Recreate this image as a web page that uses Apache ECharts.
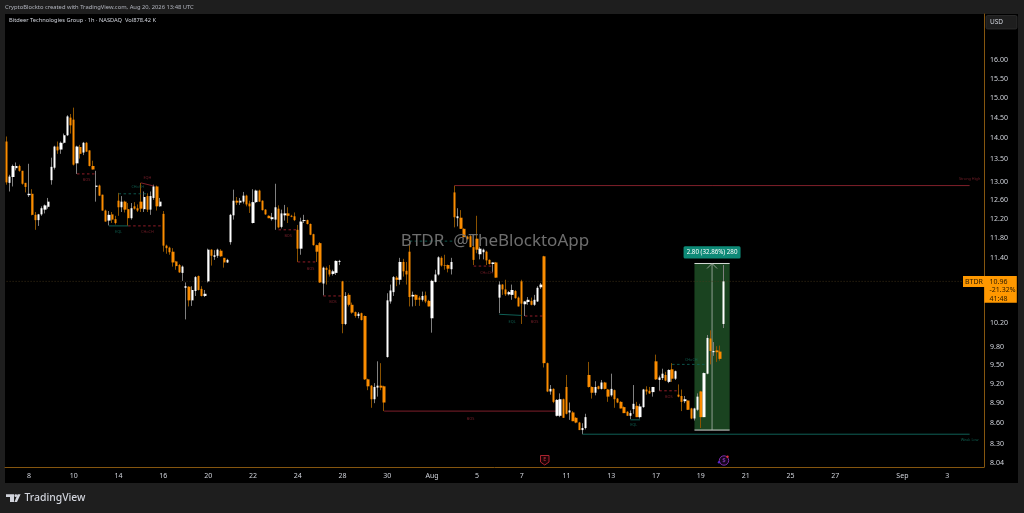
<!DOCTYPE html>
<html><head><meta charset="utf-8">
<style>html,body{margin:0;padding:0;background:#1e1e1e}#c{width:1024px;height:513px}</style>
<script src="https://cdn.jsdelivr.net/npm/echarts@6/dist/echarts.min.js"></script>
</head><body><div id="c"></div>
<script>
const sessions=['Jul 7','Jul 8','Jul 9','Jul 10','Jul 13','Jul 14','Jul 15','Jul 16','Jul 17','Jul 20','Jul 21','Jul 22','Jul 23','Jul 24','Jul 27','Jul 28','Jul 29','Jul 30','Jul 31','Aug 3','Aug 4','Aug 5','Aug 6','Aug 7','Aug 10','Aug 11','Aug 12','Aug 13','Aug 14','Aug 17','Aug 18','Aug 19','Aug 20','Aug 21','Aug 24','Aug 25','Aug 26','Aug 27','Aug 28','Aug 31','Sep 1','Sep 2','Sep 3','Sep 4'];
const dateTicks=['Jul 8','Jul 10','Jul 14','Jul 16','Jul 20','Jul 22','Jul 24','Jul 28','Jul 30','Aug 3','Aug 5','Aug 7','Aug 11','Aug 13','Aug 17','Aug 19','Aug 21','Aug 25','Aug 27','Sep 1','Sep 3'];
const priceTicks=[16,15.5,15,14.5,14,13.5,13,12.6,12.2,11.8,11.4,10.2,9.8,9.5,9.2,8.9,8.6,8.3,8.04];
const opens=[13.92,12.97,13.10,13.30,13.35,13.24,12.97,12.70,12.73,12.28,12.17,12.29,12.39,12.45,13.03,
13.31,13.80,13.73,13.89,14.07,14.50,14.45,13.41,13.79,13.66,13.89,13.71,13.35,12.88,12.91,
12.71,12.37,12.16,12.29,12.19,12.58,12.44,12.56,12.40,12.21,12.46,12.42,12.56,12.40,12.68,
12.39,12.64,12.89,12.46,12.30,11.65,11.61,11.53,11.34,11.27,11.12,10.84,10.86,10.61,10.78,
11.06,10.82,10.69,10.96,11.57,11.43,11.45,11.55,11.41,11.32,11.72,12.27,12.58,12.54,12.56,
12.69,12.52,12.11,12.55,12.80,12.58,12.39,12.26,12.19,12.18,12.41,12.03,12.27,12.31,12.26,
12.25,11.97,11.59,12.15,12.17,12.09,11.88,11.66,11.70,10.92,11.21,11.18,11.10,11.12,11.33,
10.96,10.19,10.71,10.53,10.40,10.33,10.38,10.33,9.27,9.17,8.96,9.14,9.17,9.16,9.63,
10.59,10.76,11.03,10.99,11.33,11.16,11.53,10.68,10.71,10.66,10.62,10.70,10.60,10.29,10.95,
11.09,11.41,11.27,11.27,11.19,12.76,12.21,12.22,11.99,11.83,11.84,11.62,11.79,11.48,11.52,
11.53,11.37,11.29,11.32,10.66,10.90,10.81,10.72,10.71,10.78,10.66,10.96,10.54,10.58,10.60,
10.53,10.59,10.85,11.44,9.53,9.08,9.12,8.71,8.71,8.96,9.15,8.76,8.76,8.68,8.61,
8.50,8.53,9.34,9.15,9.06,9.16,9.12,9.22,9.11,9.02,9.10,8.97,8.92,8.84,8.77,
8.71,8.81,8.86,8.69,8.84,9.11,9.09,9.07,9.56,9.26,9.29,9.34,9.23,9.43,9.28,
9.03,9.01,8.93,8.94,8.82,8.67,8.80,9.08,8.69,9.36,9.94,9.71,9.74,9.72,10.19];
const highs=[14.04,13.15,13.38,13.43,13.38,13.24,12.97,13.40,12.83,12.34,12.30,12.46,12.50,12.64,13.54,
13.82,13.92,13.92,14.11,14.56,14.59,14.75,13.82,13.84,13.91,13.91,13.71,13.47,13.24,12.93,
12.71,12.39,12.36,12.34,12.26,12.75,12.68,12.58,12.53,12.53,12.55,12.50,12.97,12.78,12.74,
12.78,12.93,12.91,12.64,12.36,11.67,11.63,11.60,11.35,11.29,11.26,10.94,10.87,10.87,11.06,
11.07,10.87,10.80,11.59,11.58,11.56,11.59,11.58,11.41,11.39,12.30,12.82,12.66,12.64,12.77,
12.71,12.58,12.83,12.82,12.82,12.59,12.40,12.27,12.32,12.95,12.48,12.39,12.49,12.44,12.28,
12.33,12.07,12.22,12.28,12.18,12.10,11.89,11.67,11.72,11.24,11.24,11.27,11.18,11.36,11.37,
10.97,10.76,10.74,10.57,10.41,10.40,10.39,10.34,9.28,9.18,9.21,9.56,9.53,9.17,10.74,
10.90,11.06,11.06,11.41,11.39,11.33,11.72,10.77,10.72,10.69,10.77,10.77,10.62,10.99,11.18,
11.44,11.44,11.47,11.28,11.41,12.91,12.42,12.38,12.00,11.85,11.87,11.80,12.26,11.63,11.59,
11.55,11.38,11.32,11.33,10.96,10.91,10.99,10.78,10.90,10.80,10.68,10.99,10.60,10.67,10.66,
10.71,10.87,10.93,11.45,9.54,9.18,9.13,8.96,9.05,8.97,9.34,8.91,8.78,8.69,8.62,
8.60,8.74,9.55,9.16,9.24,9.17,9.26,9.23,9.12,9.36,9.11,8.98,8.93,8.85,8.78,
8.79,9.18,8.92,8.89,9.12,9.16,9.15,9.15,9.67,9.33,9.44,9.39,9.43,9.53,9.41,
9.19,9.11,9.01,8.94,8.83,8.83,9.05,9.09,9.38,10.00,10.08,9.88,9.81,9.82,11.27];
const lows=[12.93,12.78,12.89,13.25,13.22,12.93,12.76,12.66,12.27,11.97,12.05,12.26,12.31,12.41,12.93,
13.27,13.63,13.63,13.87,14.05,14.11,13.36,13.17,13.52,13.60,13.68,13.34,13.27,12.56,12.68,
12.37,12.14,12.06,12.11,12.08,12.26,12.34,12.33,12.05,12.18,12.39,12.34,12.34,12.34,12.34,
12.28,12.60,12.37,12.45,11.53,11.49,11.47,11.24,11.18,11.12,10.97,10.27,10.50,10.51,10.69,
10.79,10.68,10.67,10.94,11.26,11.37,11.41,11.43,11.22,11.31,11.67,12.18,12.49,12.49,12.52,
12.46,12.32,12.10,12.53,12.56,12.37,12.28,12.21,12.16,11.97,12.00,12.00,12.16,12.11,12.23,
12.15,11.33,11.47,12.11,12.08,11.86,11.65,11.33,10.93,10.70,10.90,11.05,11.07,11.08,11.27,
10.03,10.17,10.50,10.37,10.30,10.29,10.25,9.26,9.10,8.83,8.90,9.00,9.10,8.78,9.62,
10.55,10.69,10.87,10.90,11.05,10.90,10.50,10.50,10.51,10.51,10.59,10.56,10.50,10.04,10.94,
11.07,11.24,11.18,11.13,11.09,12.02,12.04,11.99,11.82,11.77,11.62,11.27,11.50,11.38,11.38,
11.27,11.28,11.13,11.03,10.38,10.71,10.69,10.70,10.62,10.64,10.50,10.19,10.33,10.53,10.52,
10.51,10.58,10.82,9.46,9.07,9.03,8.90,8.70,8.69,8.68,8.73,8.65,8.63,8.60,8.50,
8.44,8.51,9.14,8.97,9.02,9.11,9.11,9.11,8.92,9.00,8.83,8.90,8.82,8.75,8.71,
8.66,8.74,8.69,8.67,8.83,9.03,9.04,9.00,9.26,9.09,9.26,9.24,9.21,9.23,9.26,
8.99,8.78,8.90,8.80,8.66,8.64,8.78,8.53,8.69,9.35,9.51,9.65,9.55,9.57,10.12];
const closes=[12.98,13.11,13.35,13.35,13.24,12.95,12.88,12.73,12.28,12.17,12.29,12.42,12.48,12.56,13.33,
13.80,13.71,13.89,14.07,14.53,14.31,13.38,13.80,13.63,13.89,13.68,13.35,13.27,12.91,12.69,
12.37,12.14,12.28,12.18,12.11,12.44,12.56,12.39,12.21,12.42,12.41,12.37,12.41,12.66,12.39,
12.68,12.89,12.46,12.56,11.65,11.60,11.52,11.32,11.25,11.13,11.24,10.87,10.61,10.80,11.04,
10.80,10.69,10.73,11.57,11.45,11.46,11.57,11.44,11.32,11.37,12.28,12.58,12.54,12.58,12.69,
12.50,12.46,12.55,12.80,12.56,12.38,12.29,12.21,12.23,12.44,12.02,12.31,12.31,12.26,12.24,
12.17,11.59,12.14,12.17,12.09,11.87,11.66,11.53,10.94,11.22,11.18,11.09,11.15,11.35,11.35,
10.19,10.69,10.53,10.39,10.33,10.37,10.26,9.27,9.16,8.96,9.15,9.17,9.14,8.91,10.61,
10.79,11.04,10.99,11.33,11.15,11.09,10.67,10.71,10.62,10.62,10.69,10.59,10.50,10.97,11.09,
11.42,11.26,11.26,11.20,11.33,12.23,12.25,11.99,11.82,11.78,11.62,11.37,11.57,11.59,11.57,
11.36,11.29,11.32,11.03,10.90,10.81,10.72,10.76,10.80,10.65,10.50,10.55,10.59,10.62,10.53,
10.62,10.84,10.90,9.53,9.08,9.12,8.92,8.95,8.96,8.68,8.74,8.79,8.63,8.61,8.50,
8.53,8.69,9.15,9.06,9.15,9.12,9.22,9.12,9.00,9.12,8.96,8.91,8.82,8.75,8.71,
8.75,8.89,8.69,8.85,9.11,9.08,9.05,9.15,9.27,9.30,9.36,9.25,9.42,9.28,9.40,
9.00,8.92,8.96,8.80,8.67,8.82,9.00,8.69,9.37,9.95,9.73,9.73,9.71,9.60,10.96];
const lastPrice=10.96;
// structure lines: start bar, end bar, start price, end price, kind
const structureLines=[
[22,28,13.17,13.17,'redDash'],[35,44,12.73,12.73,'tealDash'],[42,46,12.97,12.90,'red'],[32,38,12.05,12.05,'teal'],
[38,49,12.05,12.05,'redDash'],[85,91,11.97,11.97,'redDash'],[91,97,11.33,11.33,'redDash'],[99,105,10.69,10.69,'redDash'],
[118,172,8.78,8.78,'red'],[126,140,11.74,11.74,'tealDash'],[140,301,12.91,12.91,'red'],[180,301,8.44,8.44,'teal'],
[146,152,11.25,11.25,'redDash'],[154,161,10.36,10.34,'teal'],[162,168,10.33,10.33,'redDash'],[195,198,8.65,8.65,'teal'],
[204,210,9.09,9.09,'redDash'],[208,219,9.51,9.51,'tealDash']];
const redLabels=[[25,13.04,'BOS'],[44,13.08,'EQH'],[44,11.92,'CHoCH'],[88,11.84,'BOS'],[95,11.20,'BOS'],[102,10.58,'BOS'],[145,8.66,'BOS'],[150,11.12,'CHoCH'],[165,10.22,'BOS'],[207,9.00,'BOS'],[301,13.06,'Strong High']];
const tealLabels=[[41,12.87,'CHoCH'],[35,11.92,'EQL'],[158,10.22,'EQL'],[196,8.58,'EQL'],[214,9.59,'CHoCH'],[301,8.36,'Weak Low']];
const measure={startBar:215,endBar:226,low:8.50,high:11.30,text:'2.80 (32.86%) 280'};

const FONT='"Noto Sans", sans-serif';
const ORANGE='#fb8c00',WHITE='#ffffff',WICK_O='#8a5200',WICK_W='#808080';
const RED='#8a2330',TEAL='#0f5f55',AXIS='#85560f';
const barsPerDay=7,totalBars=306;
const categories=[];
sessions.forEach(d=>{for(let h=0;h<barsPerDay;h++)categories.push(h?d+' '+h:d);});
categories.length=totalBars;

const wickData=opens.map((o,i)=>[o,closes[i],lows[i],highs[i]]);
const bodyData=opens.map((o,i)=>[o,closes[i],Math.min(o,closes[i]),Math.max(o,closes[i])]);

const lineStyles={red:{color:'#7e1f2a',type:'solid',width:1},redDash:{color:'#a3202c',type:[2.5,2.5],width:.9},teal:{color:TEAL,type:'solid',width:1},tealDash:{color:TEAL,type:[2.5,2.5],width:.9}};
const lineSeries=structureLines.map(l=>({type:'line',data:[[l[0],l[2]],[l[1],l[3]]],symbol:'none',silent:true,z:3,lineStyle:lineStyles[l[4]]}));

function labelSeries(list,color){return{type:'scatter',data:list,symbolSize:0,silent:true,z:4,encode:{x:0,y:1},
 label:{show:true,position:'inside',formatter:p=>p.value[2],color:color,fontSize:3.8,fontFamily:FONT}};}

const chart=echarts.init(document.getElementById('c'),null,{renderer:'canvas'});
chart.setOption({
 animation:false,backgroundColor:'#1e1e1e',
 grid:{left:5,right:40,top:14,bottom:46,containLabel:false},
 xAxis:{type:'category',data:categories,boundaryGap:true,
  axisLine:{lineStyle:{color:AXIS,width:1}},axisTick:{show:false},splitLine:{show:false},
  axisLabel:{interval:(i,v)=>dateTicks.includes(v),margin:5,color:'#d1d4dc',fontSize:7,fontFamily:FONT,
   formatter:v=>v==='Aug 3'?'Aug':v==='Sep 1'?'Sep':v.split(' ')[1]}},
 yAxis:{type:'log',logBase:10,position:'right',min:7.98,max:17.31,
  axisLine:{show:true,lineStyle:{color:AXIS,width:1}},axisTick:{show:false},splitLine:{show:false},minorTick:{show:false},minorSplitLine:{show:false},
  axisLabel:{customValues:priceTicks,margin:6,padding:[2,0,0,0],color:'#d1d4dc',fontSize:7,fontFamily:FONT,formatter:v=>Number(v).toFixed(2),showMinLabel:true,showMaxLabel:true}},
 series:[
  {type:'custom',z:1,silent:true,data:[[measure.startBar,measure.endBar,measure.low,measure.high]],encode:{x:[0,1],y:[2,3]},
   renderItem:(p,api)=>{
    const a=api.coord([api.value(0),api.value(3)]),b=api.coord([api.value(1),api.value(2)]);
    const cx=(a[0]+b[0])/2;
    const ln={stroke:'#d5dbd6',lineWidth:1,fill:null},cl={stroke:'#aeb6af',lineWidth:.8,fill:null};
    return {type:'group',children:[
     {type:'rect',shape:{x:a[0],y:a[1],width:b[0]-a[0],height:b[1]-a[1]},style:{fill:'#1a4320'}},
     {type:'line',shape:{x1:a[0],y1:a[1],x2:b[0],y2:a[1]},style:ln},
     {type:'line',shape:{x1:a[0],y1:b[1],x2:b[0],y2:b[1]},style:ln},
     {type:'line',shape:{x1:cx,y1:a[1],x2:cx,y2:b[1]},style:cl},
     {type:'polyline',shape:{points:[[cx-5,a[1]+5],[cx,a[1]],[cx+5,a[1]+5]]},style:cl},
     {type:'rect',shape:{x:cx-28.5,y:a[1]-17.3,width:57,height:12.4,r:1.5},style:{fill:'#0d8a77'}},
     {type:'text',style:{x:cx,y:a[1]-11,text:measure.text,fill:'#ffffff',fontSize:6.2,fontFamily:FONT,align:'center',verticalAlign:'middle'}}
    ]};
   }},
  {type:'line',data:[[0,lastPrice],[totalBars-1,lastPrice]],symbol:'none',silent:true,z:1,lineStyle:{color:'#4a3a1c',type:[1,2],width:.8}},
  {type:'candlestick',name:'wicks',data:wickData,barWidth:1,silent:true,z:2,itemStyle:{color:WICK_W,color0:WICK_O,borderColor:WICK_W,borderColor0:WICK_O,borderWidth:1}},
  {type:'candlestick',name:'bodies',data:bodyData,barWidth:2.8,silent:true,z:3,itemStyle:{color:WHITE,color0:ORANGE,borderColor:WHITE,borderColor0:ORANGE,borderWidth:0}},
  ...lineSeries,
  labelSeries(redLabels,RED),labelSeries(tealLabels,'#12705f')
 ],
 graphic:[
  {type:'rect',z:-1,shape:{x:5,y:14,width:1013,height:469},style:{fill:'#000'},silent:true},
  {type:'text',z:50,style:{x:5,y:7,text:'CryptoBlockto created with TradingView.com, Aug 20, 2026 13:48 UTC',fill:'#b2b5be',fontSize:5.8,fontFamily:FONT,verticalAlign:'middle'}},
  {type:'text',z:50,style:{x:9,y:20.5,text:'Bitdeer Technologies Group · 1h · NASDAQ  Vol878.42 K',fill:'#d1d4dc',fontSize:5.7,fontFamily:FONT,verticalAlign:'middle'}},
  {type:'text',z:5,style:{x:495,y:241,text:'BTDR  @TheBlocktoApp',fill:'#6e6e6e',fontSize:17,fontFamily:FONT,align:'center',verticalAlign:'middle'}},
  {type:'rect',z:50,shape:{x:986,y:15.5,width:31,height:13.5,r:1.5},style:{fill:'#1e1e1e',stroke:'#333',lineWidth:.7}},
  {type:'text',z:51,style:{x:990,y:22.5,text:'USD',fill:'#d1d4dc',fontSize:6.5,fontFamily:FONT,verticalAlign:'middle'}},
  {type:'rect',z:50,shape:{x:963,y:276,width:22,height:11},style:{fill:'#ff9800'}},
  {type:'rect',z:50,shape:{x:984.3,y:276,width:32.5,height:26.7},style:{fill:'#ff9800'}},
  {type:'text',z:51,style:{x:965,y:281.8,text:'BTDR',fill:'#2a1a00',fontSize:7,fontFamily:FONT,verticalAlign:'middle'}},
  {type:'text',z:51,style:{x:989.5,y:282,text:'10.96',fill:'#2a1a00',fontSize:7,fontFamily:FONT,verticalAlign:'middle'}},
  {type:'text',z:51,style:{x:989.5,y:290.3,text:'-21.32%',fill:'#2a1a00',fontSize:7,fontFamily:FONT,verticalAlign:'middle'}},
  {type:'text',z:51,style:{x:989.5,y:298.5,text:'41:48',fill:'#2a1a00',fontSize:7,fontFamily:FONT,verticalAlign:'middle'}},
  {type:'polygon',z:50,shape:{points:[[6,494.3],[14,494.3],[14,502],[10,502],[10,497],[6,497]]},style:{fill:'#d1d4dc'}},
  {type:'circle',z:50,shape:{cx:15.8,cy:495.7,r:1.4},style:{fill:'#d1d4dc'}},
  {type:'polygon',z:50,shape:{points:[[17.6,494.3],[20.6,494.3],[17,502],[14.4,502]]},style:{fill:'#d1d4dc'}},
  {type:'text',z:50,style:{x:24.5,y:498,text:'TradingView',fill:'#d1d4dc',fontSize:10.4,fontFamily:FONT,fontWeight:500,verticalAlign:'middle'}},
  {type:'polygon',z:50,shape:{points:[[540.5,455.5],[549,455.5],[549,462],[544.75,465],[540.5,462]]},style:{fill:'#1a0306',stroke:'#a8232f',lineWidth:1}},
  {type:'text',z:51,style:{x:544.75,y:459.8,text:'E',fill:'#c22e3a',fontSize:5.5,fontFamily:FONT,align:'center',verticalAlign:'middle'}},
  {type:'circle',z:50,shape:{cx:724,cy:460.5,r:4.7},style:{fill:'#14051c',stroke:'#7d2da8',lineWidth:1}},
  {type:'text',z:51,style:{x:724,y:460.5,text:'$',fill:'#9a3fcf',fontSize:6,fontFamily:FONT,align:'center',verticalAlign:'middle'}},
  {type:'circle',z:51,shape:{cx:727.5,cy:456.8,r:1.2},style:{fill:'#e0303a'}},
  {type:'circle',z:51,shape:{cx:719,cy:462.3,r:1.2},style:{fill:'#5a25c8'}}
 ]
});
</script></body></html>
